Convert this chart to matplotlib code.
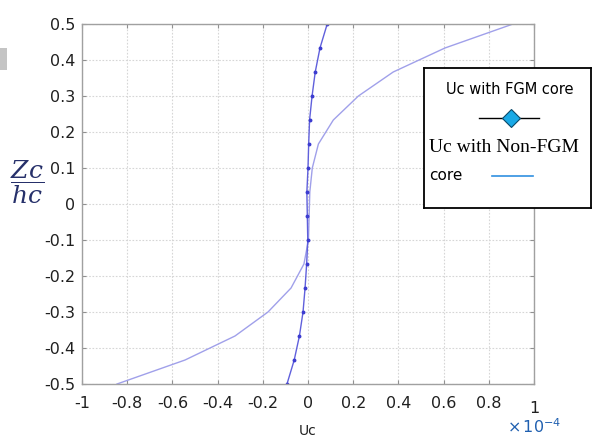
import numpy as np
import matplotlib
matplotlib.use("Agg")
import matplotlib.pyplot as plt
from matplotlib.lines import Line2D
from matplotlib.patches import Rectangle

plt.rcParams['mathtext.fontset'] = 'dejavuserif'

# depth ratio Zc/hc (16 points, step 1/15)
zc_hc = np.linspace(-0.5, 0.5, 16)

# displacement Uc (x 1e-4)
uc_fgm = [-0.093, -0.061, -0.038, -0.022, -0.013, -0.006, -0.001, -0.003,
          -0.005, 0.000, 0.003, 0.007, 0.018, 0.032, 0.053, 0.085]
uc_nonfgm = [-0.845, -0.544, -0.323, -0.177, -0.075, -0.018, 0.002, 0.005,
             0.008, 0.019, 0.046, 0.112, 0.223, 0.377, 0.606, 0.907]

xticks = [-1, -0.8, -0.6, -0.4, -0.2, 0, 0.2, 0.4, 0.6, 0.8, 1]
xticklabels = ['-1', '-0.8', '-0.6', '-0.4', '-0.2', '0', '0.2', '0.4', '0.6', '0.8', '1']
yticks = [-0.5, -0.4, -0.3, -0.2, -0.1, 0, 0.1, 0.2, 0.3, 0.4, 0.5]
yticklabels = ['-0.5', '-0.4', '-0.3', '-0.2', '-0.1', '0', '0.1', '0.2', '0.3', '0.4', '0.5']

W, H = 593, 438
fig = plt.figure(figsize=(W / 100, H / 100), dpi=100)
ax = fig.add_axes([82 / W, 1 - 384 / H, (534 - 82) / W, (384 - 24) / H])

ax.plot(uc_nonfgm, zc_hc, color='#a0a0ea', lw=1.0)
ax.plot(uc_fgm, zc_hc, color='#6060dc', lw=1.0, marker='o', ms=1.8,
        mfc='#3c3cd0', mec='#3c3cd0')

ax.set_xlim(-1, 1)
ax.set_ylim(-0.5, 0.5)
ax.set_xticks(xticks)
ax.set_xticklabels(xticklabels)
ax.set_yticks(yticks)
ax.set_yticklabels(yticklabels)
ax.grid(True, ls=(0, (1.5, 1.5)), color='#d6d6d6', lw=0.8)
ax.tick_params(direction='in', length=3, color='#909090', labelsize=11.5,
               top=True, right=True, labelcolor='#202020')
ax.tick_params(axis='x', pad=9)
ax.tick_params(axis='y', pad=5)
# the "1" sits a bit lower in the original
ax.get_xticklabels()[-1].set_y(-0.012)
for s in ax.spines.values():
    s.set_color('#a0a0a0')
    s.set_linewidth(1.0)

fig.text(308 / W, 1 - 431 / H, 'Uc', ha='center', va='center', fontsize=10, color='#202020')
fig.text(534 / W, 1 - 427 / H, r'$\mathregular{\times\,10^{-4}}$', ha='center', va='center',
         fontsize=11.5, color='#2060b0')
fig.text(27 / W, 1 - 182 / H, r'$\dfrac{Zc}{hc}$', ha='center', va='center',
         fontsize=18, color='#26306a')

# small gray artifact at top-left
fig.patches.append(Rectangle((0, 1 - 70 / H), 7 / W, 22 / H, transform=fig.transFigure,
                             color='#c4c4c4', lw=0))

# hand-made legend box
lg = fig.add_axes([424 / W, 1 - 208 / H, (591 - 424) / W, (208 - 68) / H])
lg.set_xticks([])
lg.set_yticks([])
for s in lg.spines.values():
    s.set_color('black')
    s.set_linewidth(1.3)
lg.set_xlim(424, 591)
lg.set_ylim(208, 68)
lg.text(510, 90, 'Uc with FGM core', ha='center', va='center', fontsize=10.5)
lg.add_line(Line2D([479, 539], [118, 118], color='black', lw=1.0))
lg.plot([511], [118], marker='D', ms=9, mfc='#19a9e6', mec='#0a4a6a', mew=0.8)
lg.text(429, 148, 'Uc with Non-FGM', ha='left', va='center', fontsize=14,
        family='Liberation Serif')
lg.text(429, 176, 'core', ha='left', va='center', fontsize=11)
lg.add_line(Line2D([492, 533], [176, 176], color='#3090e0', lw=1.2))

fig.savefig('out.png', dpi=100)
